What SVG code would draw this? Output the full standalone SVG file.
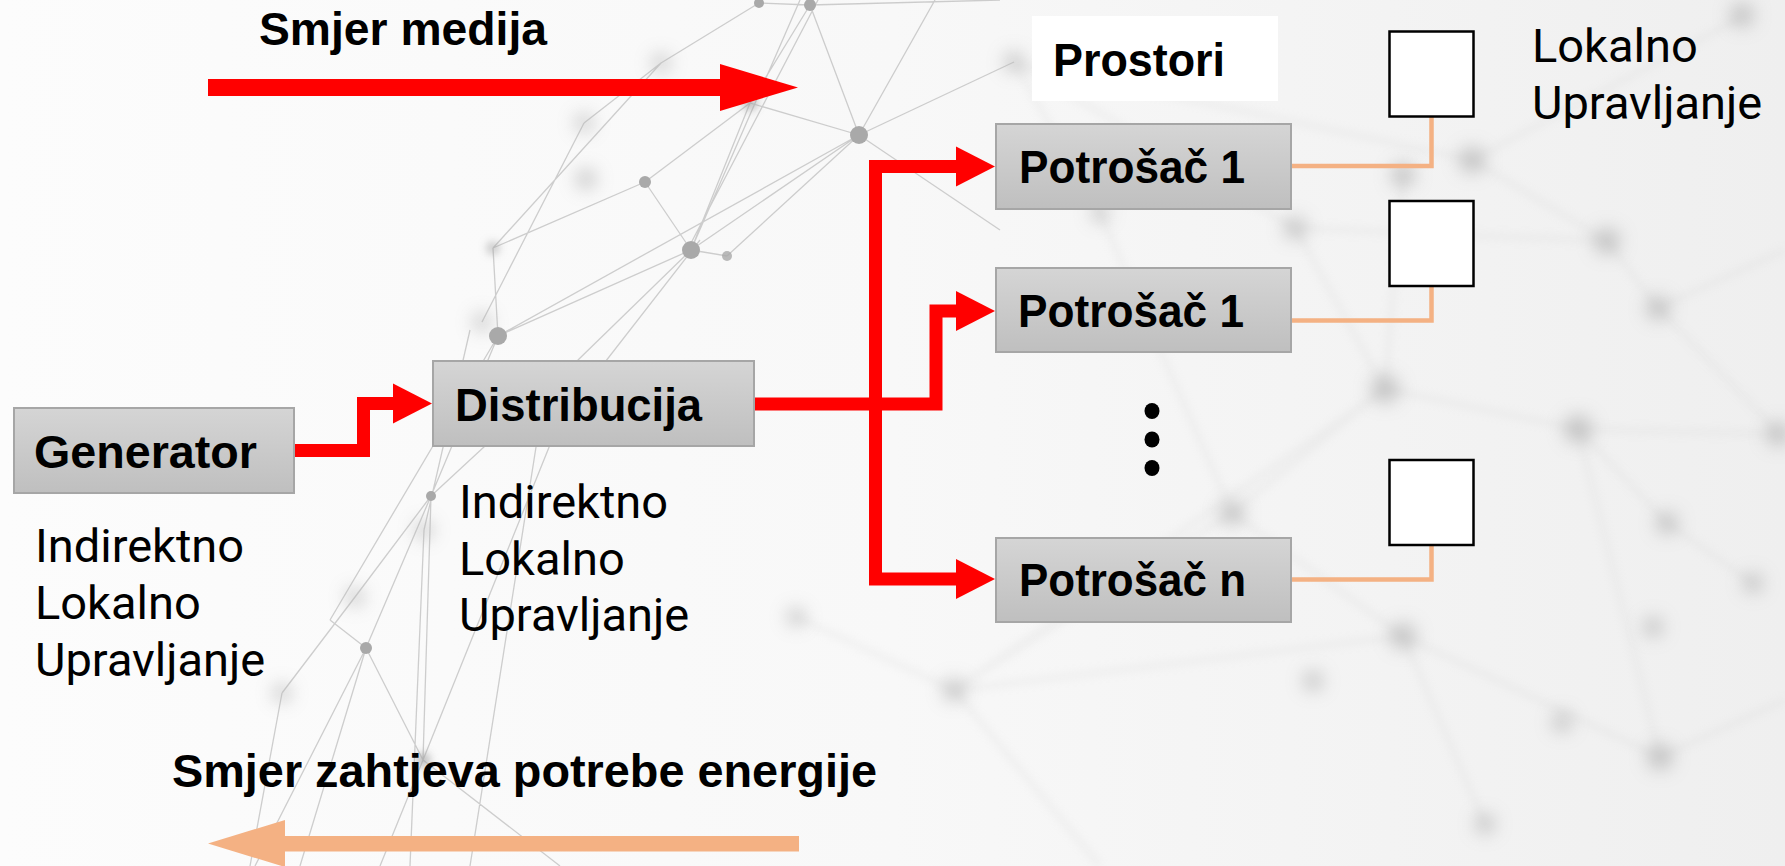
<svg xmlns="http://www.w3.org/2000/svg" width="1785" height="866" viewBox="0 0 1785 866">
<defs>
<linearGradient id="bg" x1="0" y1="0" x2="1" y2="0">
<stop offset="0" stop-color="#fcfcfc"/>
<stop offset="0.5" stop-color="#f8f8f8"/>
<stop offset="1" stop-color="#efefef"/>
</linearGradient>
<linearGradient id="boxfill" x1="0" y1="0" x2="0" y2="1">
<stop offset="0" stop-color="#d5d5d5"/>
<stop offset="1" stop-color="#bfbfbf"/>
</linearGradient>
<filter id="soft" x="-1" y="-1" width="3" height="3"><feGaussianBlur stdDeviation="5"/></filter>
<filter id="softer" x="-1" y="-1" width="3" height="3"><feGaussianBlur stdDeviation="9"/></filter>
<filter id="lineblur" x="-0.2" y="-0.2" width="1.4" height="1.4"><feGaussianBlur stdDeviation="4"/></filter>
<marker id="redHead" markerUnits="userSpaceOnUse" viewBox="0 -21 40 42" refX="1" refY="0" markerWidth="40" markerHeight="42" orient="auto-start-reverse">
<path d="M0,-20 L39,0 L0,20 Z" fill="#ff0000"/>
</marker>
<style>
.box{fill:url(#boxfill);stroke:#a6a6a6;stroke-width:2}
.bold{font-family:"Liberation Sans",Arial,sans-serif;font-weight:700;font-size:46px;fill:#000}
.reg{font-family:Roboto,"Liberation Sans",sans-serif;font-size:47px;fill:#000}
.red{fill:none;stroke:#ff0000;stroke-width:13;stroke-linejoin:miter;stroke-linecap:butt}
.ctl{fill:none;stroke:#f4b183;stroke-width:4.5;stroke-linejoin:miter}
.ctlbox{fill:#ffffff;stroke:#000;stroke-width:2.5}
.net{stroke:#bdbdbd;stroke-width:1.3;fill:none;opacity:0.75}
.netf{stroke:#c8c8c8;stroke-width:6;fill:none;opacity:0.18;filter:url(#lineblur)}
.dot{fill:#a9a9a9}
.bdot{fill:#a0a0a0;filter:url(#soft)}
.fdot{fill:#b5b5b5;filter:url(#softer);opacity:0.75}
</style>
</defs>

<g id="background">
<rect x="0" y="0" width="1785" height="866" fill="url(#bg)"/>
<g id="network-faint">
<path class="netf" d="M1014,62 L1472,160 M1472,160 L1607,241 M1607,241 L1658,308 M1658,308 L1780,434 M1403,175 L1385,389 M1385,389 L1578,429 M1578,429 L1780,434 M1385,389 L1232,513 M1232,513 L1403,636 M1403,636 L1660,757 M1578,429 L1660,757 M1385,389 L954,690 M954,690 L1403,636 M1295,228 L1385,389 M1295,228 L1014,62 M1100,213 L1232,513 M954,690 L796,617 M954,690 L1100,866 M1660,757 L1785,700 M1403,636 L1485,824 M1578,429 L1667,523 M1667,523 L1753,583 M1295,228 L1607,241 M1014,62 L1100,213 M954,690 L1232,513 M1658,308 L1785,250 M1472,160 L1742,17"/>
</g>
<g id="network-lines">
<path class="net" d="M810,5 L750,103 M800,0 L691,250 M818,0 L690,245 M759,3 L661,63 M750,103 L691,250 M750,103 L859,135 M810,5 L859,135 M859,135 L691,250 M859,135 L498,336 M691,250 L498,336 M859,135 L1014,62 M859,135 L935,0 M750,103 L645,182 M645,182 L493,248 M645,182 L691,250 M493,248 L498,336 M498,336 L431,496 M691,250 L578,360 M578,360 L431,496 M700,240 L560,420 M560,420 L423,760 M431,496 L366,648 M366,648 L423,760 M431,496 L423,760 M423,760 L380,866 M366,648 L300,866 M423,760 L560,866 M366,648 L255,866 M498,336 L330,620 M330,620 L366,648 M727,256 L691,250 M727,256 L859,135 M661,63 L493,248 M759,3 L810,5 M661,63 L584,123 M584,123 L482,322 M810,5 L1000,0 M431,496 L355,597 M355,597 L282,693 M282,693 L250,866 M470,330 L424,530 M424,530 L410,866 M545,390 L470,866 M859,135 L1000,230"/>
</g>
<g id="network-dots">
<circle class="fdot" cx="1472" cy="160" r="13"/>
<circle class="fdot" cx="1403" cy="175" r="12"/>
<circle class="fdot" cx="1607" cy="241" r="13"/>
<circle class="fdot" cx="1658" cy="308" r="12"/>
<circle class="fdot" cx="1385" cy="389" r="14"/>
<circle class="fdot" cx="1578" cy="429" r="14"/>
<circle class="fdot" cx="1778" cy="434" r="12"/>
<circle class="fdot" cx="1667" cy="523" r="11" opacity="0.4"/>
<circle class="fdot" cx="1403" cy="636" r="13"/>
<circle class="fdot" cx="1653" cy="627" r="10" opacity="0.35"/>
<circle class="fdot" cx="1660" cy="757" r="13"/>
<circle class="fdot" cx="1562" cy="722" r="10" opacity="0.35"/>
<circle class="fdot" cx="1313" cy="681" r="10" opacity="0.35"/>
<circle class="fdot" cx="1753" cy="583" r="10" opacity="0.35"/>
<circle class="fdot" cx="1485" cy="824" r="10" opacity="0.35"/>
<circle class="fdot" cx="1742" cy="15" r="12"/>
<circle class="fdot" cx="1295" cy="228" r="11"/>
<circle class="fdot" cx="1232" cy="513" r="12"/>
<circle class="fdot" cx="1100" cy="213" r="9" opacity="0.4"/>
<circle class="fdot" cx="954" cy="690" r="11"/>
<circle class="fdot" cx="796" cy="617" r="9" opacity="0.35"/>
<circle class="fdot" cx="1014" cy="62" r="10"/>
<circle class="fdot" cx="586" cy="179" r="10" opacity="0.5"/>
<circle class="fdot" cx="584" cy="123" r="9" opacity="0.45"/>
<circle class="fdot" cx="661" cy="63" r="9" opacity="0.5"/>
<circle class="fdot" cx="482" cy="322" r="9" opacity="0.5"/>
<circle class="fdot" cx="424" cy="530" r="9" opacity="0.55"/>
<circle class="fdot" cx="355" cy="597" r="9" opacity="0.5"/>
<circle class="fdot" cx="282" cy="693" r="9" opacity="0.35"/>
<circle class="dot" cx="759" cy="3" r="5"/>
<circle class="dot" cx="810" cy="5" r="6"/>
<circle class="bdot" cx="750" cy="103" r="7" opacity="0.8"/>
<circle class="dot" cx="859" cy="135" r="9"/>
<circle class="dot" cx="691" cy="250" r="9"/>
<circle class="dot" cx="645" cy="182" r="6"/>
<circle class="dot" cx="498" cy="336" r="9"/>
<circle class="bdot" cx="493" cy="248" r="6" opacity="0.7"/>
<circle class="dot" cx="727" cy="256" r="5" opacity="0.8"/>
<circle class="dot" cx="431" cy="496" r="5"/>
<circle class="dot" cx="366" cy="648" r="6"/>
<circle class="bdot" cx="423" cy="760" r="7" opacity="0.8"/>
</g>
</g>

<g id="direction-arrows">
<g id="smjer-medija">
<text class="bold" x="259" y="45" textLength="288" lengthAdjust="spacingAndGlyphs">Smjer medija</text>
<rect x="208" y="79" width="514" height="17" fill="#ff0000"/>
<polygon points="720,64 798,87.5 720,111" fill="#ff0000"/>
</g>
<g id="smjer-zahtjeva">
<text class="bold" x="172" y="787" textLength="705" lengthAdjust="spacingAndGlyphs">Smjer zahtjeva potrebe energije</text>
<rect x="283" y="836" width="516" height="15.5" fill="#f4b183"/>
<polygon points="285,820 208,843.5 285,867" fill="#f4b183"/>
</g>
</g>

<g id="connectors">
<path class="red" d="M294,450.5 H363.5 V403.5 H394" marker-end="url(#redHead)"/>
<path class="red" d="M957,166.5 H875.5 V579 H957" marker-start="url(#redHead)" marker-end="url(#redHead)"/>
<path class="red" d="M754,404 H936 V311 H957" marker-end="url(#redHead)"/>
<path class="ctl" d="M1291,166 H1431.5 V117"/>
<path class="ctl" d="M1291,320.5 H1431.5 V286"/>
<path class="ctl" d="M1291,579.5 H1431.5 V545"/>
</g>

<g id="generator">
<rect class="box" x="14" y="408" width="280" height="85"/>
<text class="bold" x="34" y="468" textLength="223" lengthAdjust="spacingAndGlyphs">Generator</text>
</g>
<g id="generator-label">
<text class="reg" x="35" y="562">Indirektno</text>
<text class="reg" x="35" y="619">Lokalno</text>
<text class="reg" x="35" y="676">Upravljanje</text>
</g>

<g id="distribucija">
<rect class="box" x="433" y="361" width="321" height="85"/>
<text class="bold" x="455" y="421" textLength="247" lengthAdjust="spacingAndGlyphs">Distribucija</text>
</g>
<g id="distribucija-label">
<text class="reg" x="459" y="518">Indirektno</text>
<text class="reg" x="459" y="575">Lokalno</text>
<text class="reg" x="459" y="631">Upravljanje</text>
</g>

<g id="prostori">
<rect x="1032" y="16" width="246" height="85" fill="#ffffff"/>
<text class="bold" x="1053" y="76" textLength="172" lengthAdjust="spacingAndGlyphs">Prostori</text>
</g>

<g id="potrosac-1a">
<rect class="box" x="996" y="124" width="295" height="85"/>
<text class="bold" x="1019" y="183" textLength="226" lengthAdjust="spacingAndGlyphs">Potrošač 1</text>
</g>
<g id="potrosac-1b">
<rect class="box" x="996" y="268" width="295" height="84"/>
<text class="bold" x="1018" y="327" textLength="226" lengthAdjust="spacingAndGlyphs">Potrošač 1</text>
</g>
<g id="potrosac-n">
<rect class="box" x="996" y="538" width="295" height="84"/>
<text class="bold" x="1019" y="596" textLength="227" lengthAdjust="spacingAndGlyphs">Potrošač n</text>
</g>

<g id="ellipsis">
<ellipse cx="1152" cy="411" rx="7.5" ry="8"/>
<ellipse cx="1152" cy="439.5" rx="7.5" ry="8"/>
<ellipse cx="1152" cy="468" rx="7.5" ry="8"/>
</g>

<g id="lokalno-1">
<rect class="ctlbox" x="1389.5" y="31.5" width="84" height="85"/>
</g>
<g id="lokalno-2">
<rect class="ctlbox" x="1389.5" y="201" width="84" height="85"/>
</g>
<g id="lokalno-n">
<rect class="ctlbox" x="1389.5" y="460" width="84" height="85"/>
</g>
<g id="lokalno-label">
<text class="reg" x="1532" y="62">Lokalno</text>
<text class="reg" x="1532" y="119">Upravljanje</text>
</g>
</svg>
